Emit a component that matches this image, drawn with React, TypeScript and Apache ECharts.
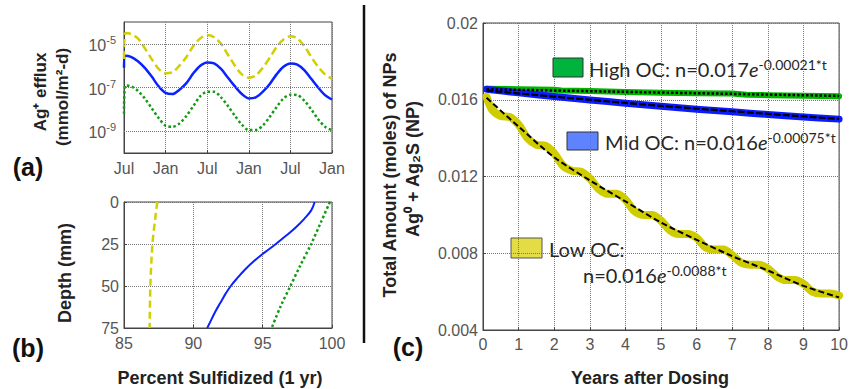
import React, { useEffect, useRef } from "react";
import * as echarts from "echarts";

// ---------- Panel (a): Ag+ efflux (log10 of mmol/m2-d) vs month (0 = Jul) ----------
const effluxMonths = [0, 0.2, 1, 2, 3, 4, 5, 6, 7, 8, 9, 10, 11, 12, 13, 14, 15, 16, 17, 18, 19, 20, 21, 22, 23, 24, 25, 26, 27, 28, 29, 30];
const effluxLowOcExp = [-5.7, -4.5, -4.55, -4.75, -5.2, -5.7, -6.15, -6.35, -6.3, -6.0, -5.6, -5.1, -4.75, -4.6, -4.7, -5.0, -5.5, -6.0, -6.4, -6.55, -6.45, -6.1, -5.65, -5.15, -4.8, -4.65, -4.75, -5.1, -5.6, -6.05, -6.4, -6.6];
const effluxMidOcExp = [-6.1, -5.55, -5.6, -5.8, -6.1, -6.5, -6.95, -7.25, -7.3, -7.1, -6.8, -6.35, -6.0, -5.85, -5.9, -6.15, -6.55, -6.95, -7.3, -7.5, -7.45, -7.2, -6.85, -6.4, -6.05, -5.9, -5.95, -6.2, -6.6, -7.0, -7.35, -7.55];
const effluxHighOcExp = [-8.2, -6.9, -6.95, -7.15, -7.5, -7.95, -8.4, -8.75, -8.8, -8.65, -8.3, -7.85, -7.4, -7.2, -7.2, -7.45, -7.85, -8.3, -8.7, -8.95, -8.95, -8.75, -8.35, -7.9, -7.5, -7.33, -7.35, -7.6, -8.0, -8.45, -8.8, -8.95];
const effluxTickExps = [-9, -7, -5];

// ---------- Panel (b): percent sulfidized (1 yr) vs depth ----------
const lowOcDepth = [0, 10, 25, 50, 75];
const lowOcPct = [87.4, 87.25, 87.05, 86.9, 86.85];
const midOcDepth = [0, 5, 10, 15, 20, 25, 30, 35, 40, 45, 50, 55, 60, 65, 70, 75];
const midOcPct = [98.75, 98.5, 98.0, 97.4, 96.7, 95.95, 95.15, 94.4, 93.75, 93.2, 92.7, 92.3, 91.95, 91.6, 91.3, 91.0];
const highOcDepth = [0, 12, 25, 38, 50, 62, 75];
const highOcPct = [99.85, 99.2, 98.5, 97.7, 97.0, 96.3, 95.65];

// ---------- Panel (c): total amount of NPs vs years ----------
const lowOcYears = [0.1, 0.25, 0.5, 0.75, 1, 1.25, 1.5, 1.75, 2, 2.25, 2.5, 2.75, 3, 3.25, 3.5, 3.75, 4, 4.25, 4.5, 4.75, 5, 5.25, 5.5, 5.75, 6, 6.25, 6.5, 6.75, 7, 7.25, 7.5, 7.75, 8, 8.25, 8.5, 8.75, 9, 9.25, 9.5, 9.75, 10];
const lowOcAmount = [0.01615, 0.0155, 0.01515, 0.0151, 0.0147, 0.014, 0.01365, 0.0136, 0.0132, 0.01255, 0.0123, 0.01225, 0.0119, 0.01135, 0.0111, 0.0111, 0.0108, 0.0102, 0.01, 0.01, 0.0097, 0.0092, 0.009, 0.009, 0.0088, 0.0083, 0.0082, 0.0082, 0.0079, 0.0075, 0.0074, 0.0074, 0.0072, 0.0068, 0.0066, 0.0066, 0.0064, 0.006, 0.0059, 0.0059, 0.0058];
const lowFitYears = [0.1, 1, 2, 3, 4, 5, 6, 7, 8, 9, 10];
const lowFitAmount = [0.0161, 0.0146, 0.013, 0.0118, 0.0107, 0.0096, 0.0087, 0.00785, 0.0071, 0.0063, 0.0057];
const midOcYears = [0.1, 1, 2, 3, 4, 5, 6, 7, 8, 9, 10];
const midOcAmount = [0.01655, 0.01636, 0.01617, 0.01599, 0.01582, 0.01566, 0.01551, 0.01537, 0.01523, 0.0151, 0.01499];
const midFitYears = [0.1, 5, 10];
const midFitAmount = [0.01648, 0.01568, 0.015];
const highOcYears = [0.1, 1, 2, 2.2, 3, 4, 5, 6, 7, 7.4, 8, 9, 10];
const highOcAmount = [0.01657, 0.01655, 0.01652, 0.01648, 0.01645, 0.01641, 0.01637, 0.01634, 0.01632, 0.01626, 0.01624, 0.01621, 0.01618];
const highFitYears = [0.1, 10];
const highFitAmount = [0.01655, 0.0162];

const zip = (xs: number[], ys: number[]) => xs.map((x, i) => [x, ys[i]]);

const YELLOW = "#d2cf00";
const BLUE = "#0a22ff";
const GREEN = "#129a12";
const TICK_FONT = "'Liberation Sans', Arial, sans-serif";
const LEG_FONT = "Lato, 'Open Sans', sans-serif";

const eqRich = {
  t: { fontSize: 20, fontFamily: LEG_FONT, fill: "#262626", verticalAlign: "bottom" },
  e: { fontSize: 20, fontFamily: LEG_FONT, fontStyle: "italic", fill: "#262626", verticalAlign: "bottom" },
  s: { fontSize: 14, fontFamily: LEG_FONT, fill: "#262626", verticalAlign: "bottom", padding: [0, 0, 8, 0] },
};

export default function App() {
  const ref = useRef<HTMLDivElement>(null);
  useEffect(() => {
    if (!ref.current) return;
    const chart = echarts.init(ref.current, null, { renderer: "svg" });

    const tickLabel = { fontSize: 16, color: "#555", fontFamily: TICK_FONT };
    const splitDotted = { show: true, lineStyle: { type: "dotted" as const, color: "#777", width: 1 } };
    const axisLine = { onZero: false, lineStyle: { color: "#444", width: 1 } };
    const axisTick = { show: true, inside: true, length: 3, lineStyle: { color: "#444" } };

    const titleStyle = { fontSize: 18, fontWeight: "bold", fill: "#222", fontFamily: TICK_FONT, align: "center", verticalAlign: "middle" };

    const option: any = {
      animation: false,
      backgroundColor: "#fff",
      grid: [
        { left: 124, top: 22, width: 208, height: 131, show: true, borderColor: "#444", borderWidth: 1 },
        { left: 124, top: 202, width: 208, height: 126, show: true, borderColor: "#444", borderWidth: 1 },
        { left: 483, top: 23, width: 361, height: 307, show: true, borderColor: "#444", borderWidth: 1 },
      ],
      xAxis: [
        {
          gridIndex: 0, type: "value", min: 0, max: 30, interval: 6,
          axisLine, axisTick,
          axisLabel: { ...tickLabel, margin: 7, formatter: (v: number) => (Math.round(v / 6) % 2 === 0 ? "Jul" : "Jan") },
          splitLine: splitDotted,
        },
        {
          gridIndex: 1, type: "value", min: 85, max: 100, interval: 5,
          axisLine, axisTick,
          axisLabel: { ...tickLabel, margin: 7 },
          splitLine: splitDotted,
        },
        {
          gridIndex: 2, type: "value", min: 0, max: 10, interval: 1,
          axisLine, axisTick,
          axisLabel: { ...tickLabel, margin: 6 },
          splitLine: splitDotted,
        },
      ],
      yAxis: [
        {
          gridIndex: 0, type: "value", min: -10, max: -4, interval: 1,
          axisLine, axisTick: { show: false },
          axisLabel: {
            ...tickLabel, margin: 8,
            formatter: (v: number) => {
              const r = Math.round(v);
              return effluxTickExps.indexOf(r) >= 0 ? `{b|10}{s|${r}}` : "";
            },
            rich: {
              b: { fontSize: 16, color: "#555", fontFamily: TICK_FONT, verticalAlign: "bottom" },
              s: { fontSize: 11, color: "#555", fontFamily: TICK_FONT, verticalAlign: "bottom", padding: [0, 0, 8, 0] },
            },
          },
          splitLine: { show: false },
        },
        {
          gridIndex: 1, type: "value", min: 0, max: 75, interval: 25, inverse: true,
          axisLine, axisTick,
          axisLabel: { ...tickLabel, margin: 5 },
          splitLine: splitDotted,
        },
        {
          gridIndex: 2, type: "value", min: 0.004, max: 0.02, interval: 0.004,
          axisLine, axisTick,
          axisLabel: { ...tickLabel, margin: 5, formatter: (v: number) => String(parseFloat(v.toFixed(3))) },
          splitLine: splitDotted,
        },
      ],
      series: [
        // (a)
        {
          type: "line", xAxisIndex: 0, yAxisIndex: 0, data: zip(effluxMonths, effluxHighOcExp),
          showSymbol: false, smooth: 0.3, lineStyle: { color: GREEN, width: 2.5, type: [2.5, 2.5] },
          markLine: {
            silent: true, symbol: ["none", "none"], label: { show: false },
            lineStyle: { type: "dotted", color: "#777", width: 1 },
            data: effluxTickExps.map((e) => ({ yAxis: e })),
          },
        },
        {
          type: "line", xAxisIndex: 0, yAxisIndex: 0, data: zip(effluxMonths, effluxMidOcExp),
          showSymbol: false, smooth: 0.3, lineStyle: { color: BLUE, width: 2.5 },
        },
        {
          type: "line", xAxisIndex: 0, yAxisIndex: 0, data: zip(effluxMonths, effluxLowOcExp),
          showSymbol: false, smooth: 0.3, lineStyle: { color: YELLOW, width: 2.5, type: [8, 4] },
        },
        // (b)
        {
          type: "line", xAxisIndex: 1, yAxisIndex: 1, data: zip(lowOcPct, lowOcDepth),
          showSymbol: false, smooth: 0.3, lineStyle: { color: YELLOW, width: 2.5, type: [7, 4] },
        },
        {
          type: "line", xAxisIndex: 1, yAxisIndex: 1, data: zip(midOcPct, midOcDepth),
          showSymbol: false, smooth: 0.4, lineStyle: { color: BLUE, width: 2 },
        },
        {
          type: "line", xAxisIndex: 1, yAxisIndex: 1, data: zip(highOcPct, highOcDepth),
          showSymbol: false, smooth: 0.3, lineStyle: { color: GREEN, width: 2.5, type: [2.5, 2.5] },
        },
        // (c) thick data lines
        {
          type: "line", xAxisIndex: 2, yAxisIndex: 2, data: zip(highOcYears, highOcAmount),
          showSymbol: false, lineStyle: { color: "#00b400", width: 6, cap: "round", join: "round" },
        },
        {
          type: "line", xAxisIndex: 2, yAxisIndex: 2, data: zip(midOcYears, midOcAmount),
          showSymbol: false, smooth: 0.3, lineStyle: { color: "#0a1cff", width: 7, cap: "round", join: "round" },
        },
        {
          type: "line", xAxisIndex: 2, yAxisIndex: 2, data: zip(lowOcYears, lowOcAmount),
          showSymbol: false, smooth: 0.3, lineStyle: { color: "#cfcc00", width: 8, cap: "round", join: "round" },
        },
        // (c) black fits
        {
          type: "line", xAxisIndex: 2, yAxisIndex: 2, data: zip(highFitYears, highFitAmount),
          showSymbol: false, lineStyle: { color: "#000", width: 2.5, type: [2.5, 2] },
        },
        {
          type: "line", xAxisIndex: 2, yAxisIndex: 2, data: zip(midFitYears, midFitAmount),
          showSymbol: false, smooth: 0.3, lineStyle: { color: "#000", width: 2.2, type: [7, 2] },
        },
        {
          type: "line", xAxisIndex: 2, yAxisIndex: 2, data: zip(lowFitYears, lowFitAmount),
          showSymbol: false, smooth: 0.3, lineStyle: { color: "#000", width: 2, type: [6, 3] },
        },
      ],
      graphic: [
        { type: "line", shape: { x1: 364, y1: 5, x2: 364, y2: 343 }, style: { stroke: "#111", lineWidth: 2.5 } },
        // axis titles
        { type: "text", x: 40, y: 92, rotation: Math.PI / 2, style: { ...titleStyle, fontSize: 17, text: "Ag⁺ efflux" } },
        { type: "text", x: 62, y: 97, rotation: Math.PI / 2, style: { ...titleStyle, fontSize: 17, text: "(mmol/m²-d)" } },
        { type: "text", x: 65, y: 273, rotation: Math.PI / 2, style: { ...titleStyle, text: "Depth (mm)" } },
        { type: "text", x: 220, y: 378, style: { ...titleStyle, text: "Percent Sulfidized (1 yr)" } },
        { type: "text", x: 390, y: 175, rotation: Math.PI / 2, style: { ...titleStyle, text: "Total Amount (moles) of NPs" } },
        { type: "text", x: 413, y: 169, rotation: Math.PI / 2, style: { ...titleStyle, text: "Ag⁰ + Ag₂S (NP)" } },
        { type: "text", x: 650, y: 378, style: { ...titleStyle, text: "Years after Dosing" } },
        // panel labels
        { type: "text", x: 28, y: 167, style: { ...titleStyle, fontSize: 25, fill: "#111", text: "(a)" } },
        { type: "text", x: 28, y: 348, style: { ...titleStyle, fontSize: 25, fill: "#111", text: "(b)" } },
        { type: "text", x: 408, y: 347, style: { ...titleStyle, fontSize: 25, fill: "#111", text: "(c)" } },
        // legend boxes
        { type: "rect", shape: { x: 553, y: 58, width: 30, height: 19 }, style: { fill: "#00b33c", stroke: "#333", lineWidth: 1 } },
        { type: "rect", shape: { x: 567, y: 132, width: 31, height: 18 }, style: { fill: "#5f82ff", stroke: "#333", lineWidth: 1 } },
        { type: "rect", shape: { x: 511, y: 238, width: 31, height: 20 }, style: { fill: "#e3dc45", stroke: "#555", lineWidth: 1 } },
        // legend texts
        {
          type: "text", x: 589, y: 68,
          style: { text: "{t|High OC: n=0.017}{e|e}{s|-0.00021*t}", verticalAlign: "middle", fill: "#262626", rich: eqRich },
        },
        {
          type: "text", x: 605, y: 141,
          style: { text: "{t|Mid OC: n=0.016}{e|e}{s|-0.00075*t}", verticalAlign: "middle", fill: "#262626", rich: eqRich },
        },
        {
          type: "text", x: 549, y: 249,
          style: { text: "Low OC:", verticalAlign: "middle", fontSize: 20, fontFamily: LEG_FONT, fill: "#262626" },
        },
        {
          type: "text", x: 583, y: 274,
          style: { text: "{t|n=0.016}{e|e}{s|-0.0088*t}", verticalAlign: "middle", fill: "#262626", rich: eqRich },
        },
      ],
    };
    chart.setOption(option);
    return () => chart.dispose();
  }, []);
  return (
    <div
      ref={ref}
      style={{ position: "absolute", left: 0, top: 0, width: 851, height: 389, background: "#fff" }}
    />
  );
}
